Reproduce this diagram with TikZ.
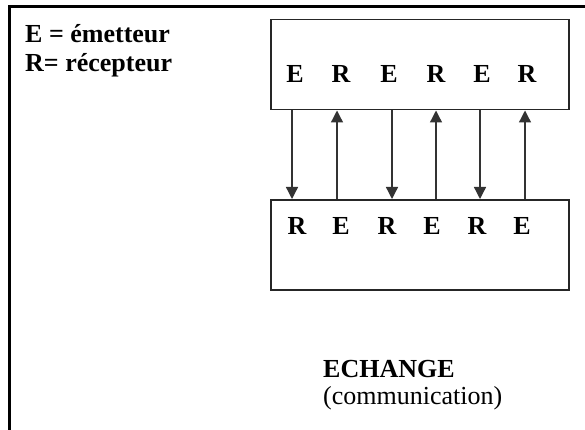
\documentclass[tikz,border=0pt]{standalone}
\usepackage{fontspec}
\setmainfont{Liberation Serif}
\usetikzlibrary{arrows.meta}

\begin{document}
\begin{tikzpicture}[
	x=1pt, y=-1pt,
	box/.style={
		rectangle,
		draw=black!85,
		line width=1.5pt,
		minimum width=298pt,
		minimum height=90pt,
		anchor=north west
	},
	letter/.style={font=\fontsize{26}{31}\selectfont\bfseries, inner sep=0pt, anchor=base},
	legend/.style={font=\fontsize{26}{31}\selectfont\bfseries, inner sep=0pt, anchor=base west},
	caption/.style={font=\fontsize{26}{31}\selectfont, inner sep=0pt, anchor=base west},
	arrow/.style={-{Triangle[length=12pt,width=12pt]}, line width=1.3pt, draw=black!80}
]

\useasboundingbox (0,0) rectangle (585,430);

% Cadre
\draw[line width=3pt] (9,7) rectangle (600,450);

% Légende
\node[legend] (legE) at (25,43) {E = émetteur};
\node[legend] (legR) at (25,72) {R= récepteur};

% Boîtes
\node[box] (emitbox) at (270,19) {};
\node[box] (recvbox) at (270,199) {};

% Lettres du haut
\node[letter] (t1) at (295,83) {E};
\node[letter] (t2) at (341,83) {R};
\node[letter] (t3) at (389,83) {E};
\node[letter] (t4) at (436,83) {R};
\node[letter] (t5) at (482,83) {E};
\node[letter] (t6) at (527,83) {R};

% Lettres du bas
\node[letter] (b1) at (297,234) {R};
\node[letter] (b2) at (341,234) {E};
\node[letter] (b3) at (387,234) {R};
\node[letter] (b4) at (432,234) {E};
\node[letter] (b5) at (477,234) {R};
\node[letter] (b6) at (522,234) {E};

% Flèches
\foreach \xa in {292,392,480}
	\draw[arrow] (emitbox.south -| \xa,0) -- (recvbox.north -| \xa,0);
\foreach \xa in {337,436,525}
	\draw[arrow] (recvbox.north -| \xa,0) -- (emitbox.south -| \xa,0);

% Titre
\node[caption, font=\fontsize{26}{31}\selectfont\bfseries] (title) at (323,377) {ECHANGE};
\node[caption] (subtitle) at (323,404) {(communication)};

\end{tikzpicture}
\end{document}
